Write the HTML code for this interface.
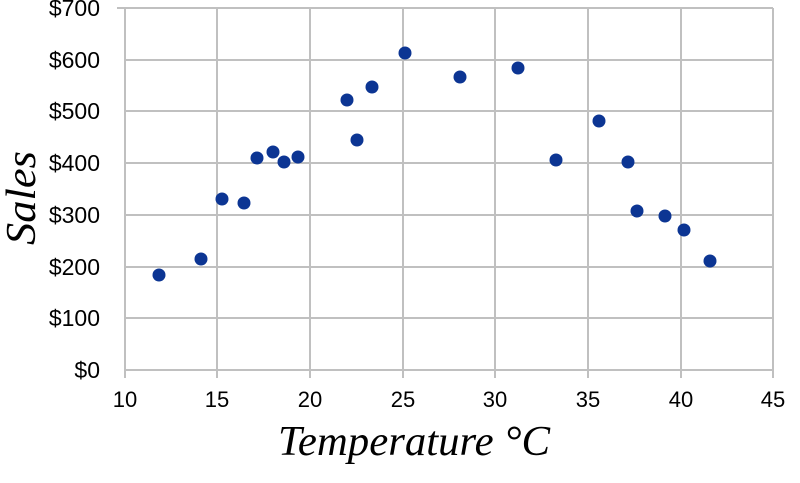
<!DOCTYPE html>
<html><head><style>body{margin:0;background:#fff}</style></head><body>
<svg width="800" height="478" xmlns="http://www.w3.org/2000/svg">
<g stroke="#c0c0c0" stroke-width="2">
<line x1="125" y1="8" x2="773" y2="8"/><line x1="125" y1="60" x2="773" y2="60"/>
<line x1="125" y1="111" x2="773" y2="111"/><line x1="125" y1="163" x2="773" y2="163"/>
<line x1="125" y1="215" x2="773" y2="215"/><line x1="125" y1="267" x2="773" y2="267"/>
<line x1="125" y1="318" x2="773" y2="318"/><line x1="125" y1="370" x2="773" y2="370"/>
<line x1="125" y1="8" x2="125" y2="378"/><line x1="217" y1="8" x2="217" y2="378"/>
<line x1="310" y1="8" x2="310" y2="378"/><line x1="403" y1="8" x2="403" y2="378"/>
<line x1="495" y1="8" x2="495" y2="378"/><line x1="588" y1="8" x2="588" y2="378"/>
<line x1="681" y1="8" x2="681" y2="378"/><line x1="773" y1="8" x2="773" y2="378"/>
<line x1="117" y1="8" x2="125" y2="8"/>
</g>
<g font-family="Liberation Sans, sans-serif" font-size="23" fill="#000" text-anchor="end">
<text x="100" y="16">$700</text><text x="100" y="68">$600</text><text x="100" y="119">$500</text>
<text x="100" y="171">$400</text><text x="100" y="223">$300</text><text x="100" y="275">$200</text>
<text x="100" y="326">$100</text><text x="100" y="378">$0</text>
</g>
<g font-family="Liberation Sans, sans-serif" font-size="22" fill="#000" text-anchor="middle">
<text x="125" y="407">10</text><text x="217" y="407">15</text><text x="310" y="407">20</text>
<text x="403" y="407">25</text><text x="495" y="407">30</text><text x="588" y="407">35</text>
<text x="681" y="407">40</text><text x="773" y="407">45</text>
</g>
<g fill="#0c3593">
<circle cx="159" cy="275" r="6.5"/><circle cx="201" cy="259" r="6.5"/><circle cx="222" cy="199" r="6.5"/>
<circle cx="244" cy="203" r="6.5"/><circle cx="257" cy="158" r="6.5"/><circle cx="273" cy="152" r="6.5"/>
<circle cx="284" cy="162" r="6.5"/><circle cx="298" cy="157" r="6.5"/><circle cx="347" cy="100" r="6.5"/>
<circle cx="357" cy="140" r="6.5"/><circle cx="372" cy="87" r="6.5"/><circle cx="405" cy="53" r="6.5"/>
<circle cx="460" cy="77" r="6.5"/><circle cx="518" cy="68" r="6.5"/><circle cx="556" cy="160" r="6.5"/>
<circle cx="599" cy="121" r="6.5"/><circle cx="628" cy="162" r="6.5"/><circle cx="637" cy="211" r="6.5"/>
<circle cx="665" cy="216" r="6.5"/><circle cx="684" cy="230" r="6.5"/><circle cx="710" cy="261" r="6.5"/>
</g>
<text x="414" y="455" font-family="Liberation Serif, serif" font-style="italic" font-size="42" text-anchor="middle" textLength="272" lengthAdjust="spacingAndGlyphs">Temperature °C</text>
<text transform="translate(35,198) rotate(-90)" font-family="Liberation Serif, serif" font-style="italic" font-size="42" text-anchor="middle" textLength="94" lengthAdjust="spacingAndGlyphs">Sales</text>
</svg>
</body></html>
